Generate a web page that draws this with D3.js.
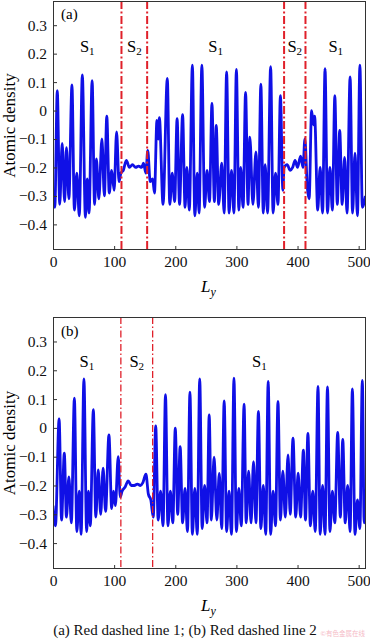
<!DOCTYPE html>
<html>
<head>
<meta charset="utf-8">
<script src="https://cdn.jsdelivr.net/npm/d3@7"></script>
<style>
  body { margin: 0; background: #fff; }
  svg { display: block; }
  svg text { font-family: "Liberation Serif", "DejaVu Serif", serif; }
</style>
</head>
<body>
<svg id="main"></svg>
<script>
// panel (a): vertices of the density profile (peaks and troughs)
var aX = [0, 3, 7, 11, 15, 19, 22, 26, 31, 35, 39, 43, 48, 53, 56, 59, 64, 68, 71, 75, 80, 84, 88, 92, 96, 100, 104, 108,
  111, 115, 120, 125, 130, 135, 140, 145, 148, 152, 155, 159, 163, 166, 170, 172, 174, 180, 187, 191, 195, 199, 203, 207,
  212, 216, 219, 223, 228, 232, 236, 239, 243.5, 248, 252, 256, 260, 264, 267, 271, 276, 280, 284, 288, 292, 296, 300,
  304, 307, 311, 315, 319, 322, 327, 332, 336, 340, 344, 347, 351, 356, 360, 364, 368, 372, 376, 378, 383, 388, 392, 396,
  400, 405, 409, 412, 416, 419, 423, 426, 428, 433, 437, 441, 445, 449, 453, 457, 461, 465, 469, 473, 477, 481, 486, 490,
  494, 498, 502, 506, 511];
var aY = [-0.30, -0.34, 0.07, -0.33, -0.115, -0.32, -0.13, -0.31, 0.09, -0.35, -0.22, -0.37, 0.125, -0.375, -0.24, -0.36,
  0.105, -0.33, -0.17, -0.31, -0.10, -0.30, -0.02, -0.29, -0.21, -0.28, -0.075, -0.25,
  -0.22, -0.21, -0.175, -0.2, -0.19, -0.2, -0.195, -0.2, -0.185, -0.22, -0.14, -0.25, -0.24, -0.29, -0.035, -0.1, -0.025,
  -0.33, 0.113, -0.33, -0.22, -0.32, -0.028, -0.33, -0.014, -0.34, -0.2, -0.35, 0.16, -0.37, -0.22, -0.36, 0.16, -0.34,
  -0.21, -0.32, 0.025, -0.32, -0.052, -0.33, -0.185, -0.36, 0.136, -0.36, -0.21, -0.36, 0.145, -0.35, -0.2, -0.34, 0.064,
  -0.33, -0.093, -0.33, -0.145, -0.34, 0.093, -0.36, -0.19, -0.36, 0.154, -0.36, -0.22, -0.33, 0.052, -0.28, -0.2, -0.19,
  -0.21, -0.2, -0.175, -0.2, -0.16, -0.2, -0.10, -0.27, -0.31, 0.0, -0.05, -0.02, -0.35, -0.2, -0.36, 0.147, -0.36, -0.2,
  -0.35, 0.052, -0.33, -0.07, -0.33, -0.165, -0.36, 0.118, -0.36, -0.15, -0.37, 0.16, -0.34, -0.3];

// panel (b)
var bX = [0, 4, 10, 14, 18.5, 22, 26, 30, 35, 39, 43, 46, 50.6, 55, 58, 61, 66, 70, 74, 78, 82, 86, 91.5, 96, 99, 102, 106.7,
  110, 113, 118, 123, 128, 133, 138, 143, 147, 152, 156, 160, 164, 168, 172, 176, 180, 184, 188, 192, 196, 200, 204, 208,
  212, 216, 220, 224, 228, 232, 236, 240, 244, 248, 252, 255.5, 259, 263.5, 268, 272, 276, 280, 284, 288, 292, 296, 300,
  304, 308, 312.6, 316, 320, 324, 328, 332, 336, 340, 344, 348, 352, 356, 360, 364, 368, 372, 376, 380, 384.5, 388, 392.6,
  397, 401, 405, 409.6, 413, 417, 421, 425, 429, 433.5, 437, 441, 445, 449, 453, 457, 461, 465.7, 470, 474, 478, 482, 486,
  489.7, 494, 498, 502, 506, 509, 511];
var bY = [-0.27, -0.34, 0.031, -0.32, -0.088, -0.31, -0.17, -0.33, 0.103, -0.36, -0.22, -0.37, 0.17, -0.36, -0.22, -0.34,
  0.063, -0.31, -0.146, -0.30, -0.14, -0.29, -0.024, -0.28, -0.22, -0.27, -0.1, -0.24, -0.22, -0.205, -0.184, -0.2, -0.2,
  -0.195, -0.2, -0.19, -0.161, -0.23, -0.25, -0.31, 0.007, -0.32, -0.22, -0.34, 0.115, -0.34, -0.22, -0.33, -0.001, -0.3,
  -0.065, -0.33, -0.21, -0.36, 0.124, -0.37, -0.21, -0.37, 0.17, -0.35, -0.2, -0.33, 0.045, -0.32, -0.102, -0.32, -0.158,
  -0.35, 0.094, -0.36, -0.22, -0.37, 0.173, -0.36, -0.21, -0.34, 0.082, -0.33, -0.15, -0.33, -0.117, -0.33, 0.057, -0.35,
  -0.2, -0.37, 0.161, -0.37, -0.22, -0.34, 0.092, -0.32, -0.15, -0.31, -0.094, -0.3, -0.036, -0.31, -0.157, -0.31, -0.077,
  -0.32, -0.019, -0.34, -0.22, -0.36, 0.144, -0.37, -0.2, -0.37, 0.142, -0.36, -0.22, -0.33, -0.016, -0.31, -0.04, -0.33,
  -0.2, -0.36, 0.135, -0.37, -0.25, -0.35, 0.165, -0.33, -0.3];

var aRed = [112, 154, 378, 413];
var bRed = [111, 163];
var aRegions = ["1", "2", "1", "2", "1"];
var bRegions = ["1", "2", "1"];
var xTicks = [0, 100, 200, 300, 400, 500];
var yTicks = [-0.4, -0.3, -0.2, -0.1, 0, 0.1, 0.2, 0.3];
var caption = "(a) Red dashed line 1; (b) Red dashed line 2";

var w = 370;
var h = 643;
var left = 53;
var right = 366;

var svg = d3.select("#main")
  .attr("width", w)
  .attr("height", h);

var fmt = function(d) { return d === 0 ? "0" : d3.format(".1f")(d); };

function panel(id, top, bottom, xs, ys, reds, redWidth, dash, regions, tag, tagY, regionY) {
  var x = d3.scaleLinear().domain([0, 512]).range([left, right]);
  var y = d3.scaleLinear().domain([-0.49, 0.385]).range([bottom, top]);
  var g = svg.append("g");

  g.append("clipPath").attr("id", "clip" + id)
    .append("rect")
    .attr("x", left).attr("y", top)
    .attr("width", right - left).attr("height", bottom - top);

  var pts = xs.map(function(d, i) { return [d, ys[i]]; });
  var line = d3.line()
    .x(function(d) { return x(d[0]); })
    .y(function(d) { return y(d[1]); })
    .curve(d3.curveMonotoneX);

  g.append("path")
    .datum(pts)
    .attr("clip-path", "url(#clip" + id + ")")
    .attr("d", line)
    .attr("fill", "none")
    .attr("stroke", "#1010e6")
    .attr("stroke-width", 2.8)
    .attr("stroke-linejoin", "round");

  g.selectAll(".red")
    .data(reds)
    .enter()
    .append("line")
    .attr("x1", function(d) { return x(d); })
    .attr("x2", function(d) { return x(d); })
    .attr("y1", top)
    .attr("y2", bottom)
    .attr("stroke", "#e0202a")
    .attr("stroke-width", redWidth)
    .attr("stroke-dasharray", dash);

  // axes with inward ticks
  var yAxis = d3.axisLeft(y).tickValues(yTicks).tickFormat(fmt).tickSizeInner(-4).tickSizeOuter(0).tickPadding(6);
  var xAxis = d3.axisBottom(x).tickValues(xTicks).tickSizeInner(-4).tickSizeOuter(0).tickPadding(6);

  var ya = g.append("g").attr("transform", "translate(" + left + ",0)").call(yAxis);
  var xa = g.append("g").attr("transform", "translate(0," + bottom + ")").call(xAxis);
  [ya, xa].forEach(function(a) {
    a.attr("font-family", null);
    a.select(".domain").remove();
    a.selectAll("line").attr("stroke", "#333");
    a.selectAll("text").attr("fill", "#111").style("font-size", "15.5px");
  });

  g.append("rect")
    .attr("x", left + 0.5).attr("y", top + 0.5)
    .attr("width", right - left - 1).attr("height", bottom - top - 1)
    .attr("fill", "none")
    .attr("stroke", "#333")
    .attr("stroke-width", 1);

  g.append("text")
    .attr("x", 61).attr("y", tagY)
    .attr("font-size", 15)
    .text(tag);

  // region labels centred between the red lines
  var bounds = [0].concat(reds).concat([512]);
  regions.forEach(function(r, i) {
    var t = g.append("text")
      .attr("x", x((bounds[i] + bounds[i + 1]) / 2))
      .attr("y", regionY)
      .attr("text-anchor", "middle")
      .attr("font-size", 16.5);
    t.append("tspan").text("S");
    t.append("tspan").attr("font-size", 11).attr("dy", 3).text(r);
  });

  g.append("text")
    .attr("transform", "translate(15," + ((top + bottom) / 2) + ") rotate(-90)")
    .attr("text-anchor", "middle")
    .attr("font-size", 17)
    .text("Atomic density");

  var ly = g.append("text")
    .attr("x", 201).attr("y", bottom + 42)
    .attr("font-size", 17)
    .attr("font-style", "italic");
  ly.append("tspan").text("L");
  ly.append("tspan").attr("font-size", 12).attr("dy", 4).text("y");
}

panel("a", 1, 250, aX, aY, aRed, 2, "8,2.5,2,2.5", aRegions, "(a)", 19, 52);
panel("b", 317, 569, bX, bY, bRed, 1.3, "7,2.5,1.5,2.5", bRegions, "(b)", 336, 367);

svg.append("text")
  .attr("x", 185).attr("y", 635)
  .attr("text-anchor", "middle")
  .attr("font-size", 15)
  .attr("fill", "#111")
  .text(caption);

svg.append("text")
  .attr("x", 365).attr("y", 636)
  .attr("text-anchor", "end")
  .attr("font-size", 6.5)
  .attr("fill", "#f08ca0")
  .attr("opacity", 0.6)
  .style("font-family", "Noto Sans CJK SC")
  .text("©有色金属在线");
</script>
</body>
</html>
